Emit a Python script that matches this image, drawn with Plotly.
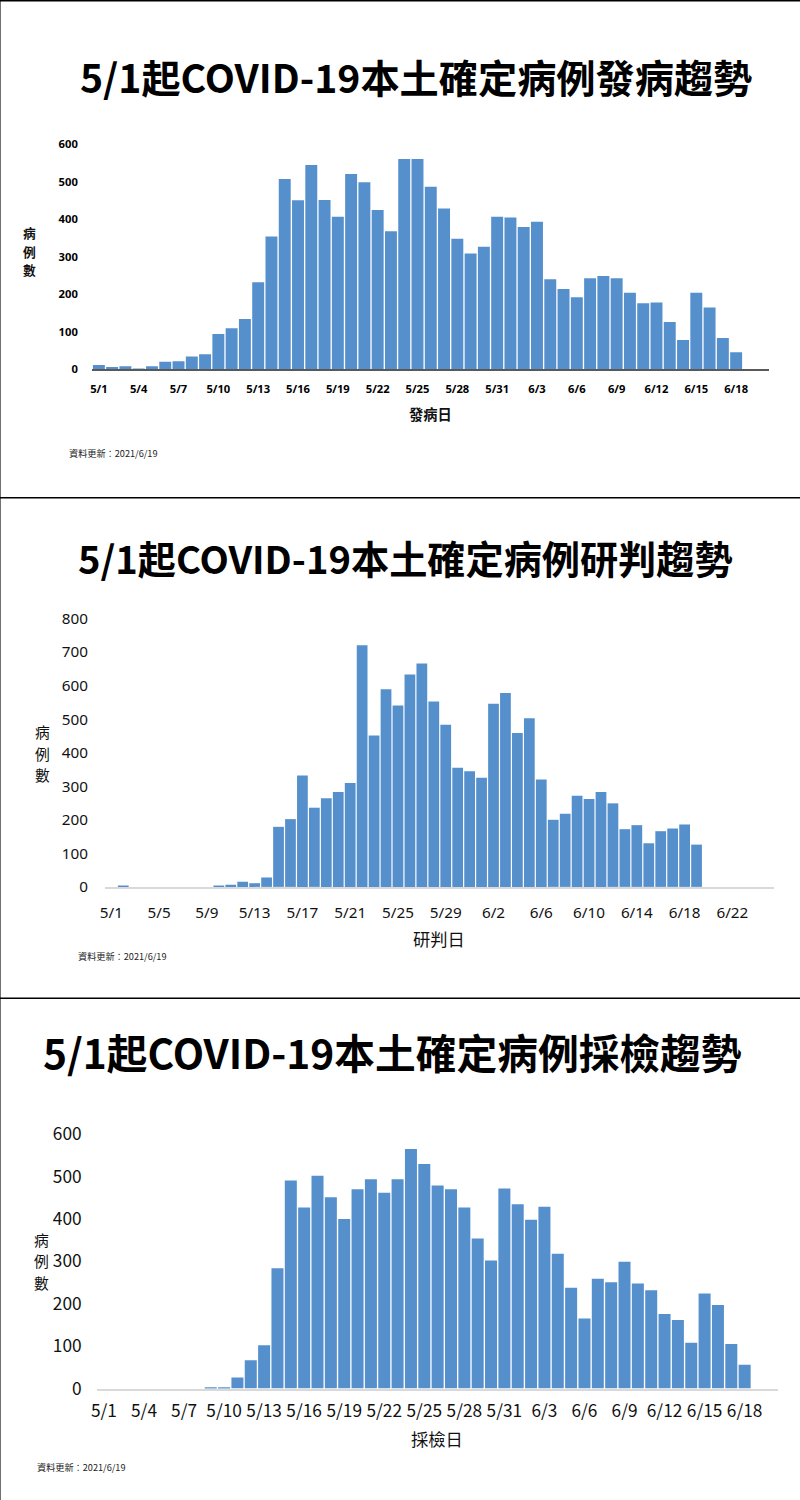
import plotly.graph_objects as go

# ---------------- data ----------------
def day_labels(month, first, last):
    return [f"{month}/{d}" for d in range(first, last + 1)]

# Panel 1: onset date (發病日)
onset_dates = day_labels(5, 1, 31) + day_labels(6, 1, 20)
onset_cases = [11, 6, 8, 1, 8, 20, 21, 34, 40, 94,
               109, 134, 232, 354, 508, 451, 545, 452, 407, 521,
               499, 425, 368, 561, 561, 487, 429, 348, 309, 327, 407,
               405, 380, 394, 240, 214, 192, 243, 249, 243, 204,
               176, 178, 126, 78, 204, 165, 83, 45]
onset_ticks = ["5/1", "5/4", "5/7", "5/10", "5/13", "5/16", "5/19", "5/22", "5/25",
               "5/28", "5/31", "6/3", "6/6", "6/9", "6/12", "6/15", "6/18"]

# Panel 2: confirmation date (研判日)
confirm_dates = day_labels(5, 1, 31) + day_labels(6, 1, 25)
confirm_cases = [0, 2, 0, 0, 0, 0, 0, 0, 0, 2,
                 6, 15, 11, 28, 179, 202, 332, 236, 264, 283,
                 310, 720, 451, 589, 541, 633, 666, 553, 483, 355, 345,
                 325, 546, 578, 459, 503, 320, 200, 218, 272, 262,
                 283, 249, 172, 184, 130, 166, 174, 186, 126]
confirm_ticks = ["5/1", "5/5", "5/9", "5/13", "5/17", "5/21", "5/25", "5/29",
                 "6/2", "6/6", "6/10", "6/14", "6/18", "6/22"]

# Panel 3: sampling date (採檢日)
sample_dates = day_labels(5, 1, 31) + day_labels(6, 1, 20)
sample_cases = [0, 0, 0, 0, 0, 0, 0, 0, 2, 2,
                26, 67, 102, 284, 491, 427, 502, 451, 400, 470,
                494, 462, 494, 565, 530, 479, 470, 427, 354, 302, 472,
                435, 398, 429, 318, 238, 165, 259, 251, 299, 248,
                232, 176, 162, 108, 224, 197, 105, 56]
sample_ticks = onset_ticks

titles = ["5/1起COVID-19本土確定病例發病趨勢",
          "5/1起COVID-19本土確定病例研判趨勢",
          "5/1起COVID-19本土確定病例採檢趨勢"]
x_titles = ["發病日", "研判日", "採檢日"]
y_title_chars = ["病", "例", "數"]
footnote = "資料更新：2021/6/19"

# ---------------- style ----------------
W, H = 800, 1500          # design space (reference pixels)
S = 1527 / 1500           # figure size factor
BAR = "#5590CD"
CJK = "Noto Sans CJK TC, Noto Sans, sans-serif"
NARROW = "Liberation Sans Narrow, Arial Narrow, Noto Sans CJK TC, sans-serif"

def px_x(v):
    return v / W

def px_y(v):
    return 1 - v / H

def sz(v):
    return v * S

panels = [
    dict(dates=onset_dates, cases=onset_cases, ticks=onset_ticks, ymax=600,
         x0=92.3, x1=762.7, y0=368.7, y1=144.3,
         tickfont=dict(family="Noto Sans, sans-serif", size=sz(11), color="#000", weight="bold"),
         xlabpad=8, ylabpad=11, linecolor="#595959", linewidth=1.5, ticklen=5,
         title=dict(x=413, y=76, size=38.5, weight="bold"),
         xt=dict(x=427, y=413, size=14, weight="bold"),
         yt=dict(x=30, y=251, size=12.5, step=18.5, weight="bold"),
         fn=dict(x=68, y=452, size=9)),
    dict(dates=confirm_dates, cases=confirm_cases, ticks=confirm_ticks, ymax=800,
         x0=105.3, x1=767.5, y0=885.7, y1=617.7,
         tickfont=dict(family="Noto Sans, sans-serif", size=sz(15), color="#111"),
         xlabpad=11, ylabpad=13, linecolor="#D9D9D9", linewidth=1.5, ticklen=6,
         title=dict(x=402, y=557, size=37.5, weight="bold"),
         xt=dict(x=436, y=937, size=17, weight="normal"),
         yt=dict(x=43, y=752, size=14.5, step=21.5, weight="normal"),
         fn=dict(x=77, y=955, size=9)),
    dict(dates=sample_dates, cases=sample_cases, ticks=sample_ticks, ymax=600,
         x0=97.3, x1=771.3, y0=1386.7, y1=1132.7,
         tickfont=dict(family=NARROW, size=sz(17), color="#111"),
         xlabpad=6, ylabpad=11, linecolor="#D9D9D9", linewidth=1.5, ticklen=6,
         title=dict(x=390, y=1050, size=40, weight="bold"),
         xt=dict(x=434, y=1437, size=17, weight="normal"),
         yt=dict(x=42, y=1259, size=14.5, step=21.5, weight="normal"),
         fn=dict(x=37, y=1465, size=9)),
]

fig = go.Figure()
layout = dict(width=round(W * S), height=round(H * S), margin=dict(l=0, r=0, t=0, b=0),
              paper_bgcolor="white", plot_bgcolor="white", showlegend=False,
              bargap=0.1, annotations=[], shapes=[])

def add_text(text, x, y, size, weight="normal", color="#111", xanchor="center"):
    layout["annotations"].append(dict(
        text=text, x=px_x(x), y=px_y(y), xref="paper", yref="paper",
        xanchor=xanchor, yanchor="middle", showarrow=False, borderpad=0,
        font=dict(family=CJK, size=sz(size), color=color, weight=weight)))

for i, p in enumerate(panels):
    n = i + 1
    xa = "x" if n == 1 else f"x{n}"
    ya = "y" if n == 1 else f"y{n}"
    xkey = "xaxis" if n == 1 else f"xaxis{n}"
    ykey = "yaxis" if n == 1 else f"yaxis{n}"
    okey = f"xaxis{n + 3}"
    N = len(p["dates"])

    fig.add_trace(go.Bar(x=p["dates"][:len(p["cases"])], y=p["cases"],
                         xaxis=xa, yaxis=ya, marker=dict(color=BAR, line=dict(width=0)),
                         hoverinfo="x+y"))

    layout[xkey] = dict(domain=[px_x(p["x0"]), px_x(p["x1"])], anchor=ya,
                        type="category", categoryorder="array", categoryarray=p["dates"],
                        range=[-0.5, N - 0.5], tickmode="array", tickvals=p["ticks"],
                        ticktext=p["ticks"], ticks="outside", ticklen=sz(p["xlabpad"]),
                        tickcolor="rgba(0,0,0,0)", tickfont=p["tickfont"],
                        showline=True, linecolor=p["linecolor"], linewidth=sz(p["linewidth"]),
                        showgrid=False, zeroline=False, fixedrange=True)
    boundaries = [p["dates"].index(t) - 0.5 for t in p["ticks"]] + [N - 0.5]
    layout[okey] = dict(overlaying=xa, anchor=ya, type="linear", range=[-0.5, N - 0.5],
                        tickmode="array", tickvals=boundaries, showticklabels=False,
                        ticks="outside", ticklen=sz(p["ticklen"]), tickcolor=p["linecolor"],
                        tickwidth=1.2, showline=False, showgrid=False, zeroline=False,
                        fixedrange=True)
    layout[ykey] = dict(domain=[px_y(p["y0"]), px_y(p["y1"])], anchor=xa,
                        range=[0, p["ymax"]], dtick=100, tick0=0,
                        ticks="outside", ticklen=sz(p["ylabpad"]), tickcolor="rgba(0,0,0,0)",
                        tickfont=p["tickfont"], showline=False, showgrid=False,
                        zeroline=False, fixedrange=True)

    t = p["title"]
    add_text(titles[i], t["x"], t["y"], t["size"], t["weight"], "#000")
    t = p["xt"]
    add_text(x_titles[i], t["x"], t["y"], t["size"], t["weight"])
    t = p["yt"]
    for k, ch in enumerate(y_title_chars):
        add_text(ch, t["x"], t["y"] + (k - 1) * t["step"], t["size"], t["weight"])
    t = p["fn"]
    add_text(footnote, t["x"], t["y"], t["size"], "normal", "#222", xanchor="left")

# panel borders
layout["shapes"].append(dict(type="rect", xref="paper", yref="paper", x0=0.001, x1=0.999,
                             y0=0.0005, y1=0.9995, line=dict(color="#000", width=1.5)))
for sep in (497, 997):
    layout["shapes"].append(dict(type="line", xref="paper", yref="paper", x0=0, x1=1,
                                 y0=px_y(sep), y1=px_y(sep), line=dict(color="#000", width=1.5)))

fig.update_layout(**layout)
fig.write_html("out.html", config={"responsive": False, "displayModeBar": False})

# remove default page margins so the figure starts at the page corner
with open("out.html", encoding="utf-8") as f:
    html = f.read()
css = ("<style>html,body{margin:0;padding:0;overflow:hidden;}"
       "body{margin:-14.2px 0 0 -7.1px !important;}</style>")
html = html.replace("<head>", "<head>" + css, 1)
with open("out.html", "w", encoding="utf-8") as f:
    f.write(html)
